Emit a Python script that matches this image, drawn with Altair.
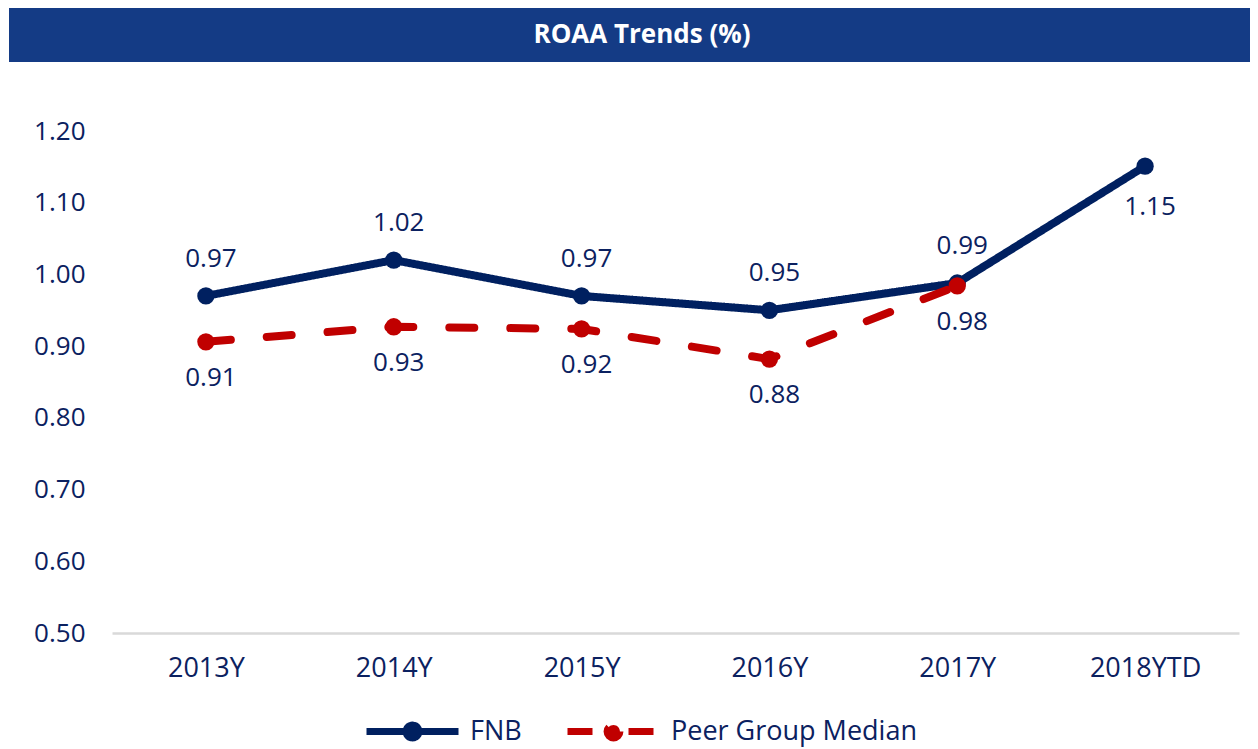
import altair as alt
import pandas as pd

# ---- data ----
years = ["2013Y", "2014Y", "2015Y", "2016Y", "2017Y", "2018YTD"]
fnb_values = [0.970, 1.020, 0.970, 0.950, 0.988, 1.151]
peer_years = ["2013Y", "2014Y", "2015Y", "2016Y", "2017Y"]
peer_values = [0.906, 0.927, 0.924, 0.882, 0.984]
series_names = ["FNB", "Peer Group Median"]
y_tick_values = [0.5, 0.6, 0.7, 0.8, 0.9, 1.0, 1.1, 1.2]
title_text = "ROAA Trends (%)"

NAVY = "#002060"
RED = "#C00000"
BANNER = "#143B85"
TEXT = "#0B2160"
FONT = "Open Sans"

rows = [{"year": y, "series": series_names[0], "value": v} for y, v in zip(years, fnb_values)]
rows += [{"year": y, "series": series_names[1], "value": v} for y, v in zip(peer_years, peer_values)]
df = pd.DataFrame(rows)

W, H = 1127, 502

color_scale = alt.Scale(domain=series_names, range=[NAVY, RED])
dash_scale = alt.Scale(domain=series_names, range=[[1, 0], [25, 36]])

sym_path = ("M-1,0L1,0M0.14,0A0.14,0.14,0,1,1,-0.14,0"
            "A0.14,0.14,0,1,1,0.14,0Z")
legend = alt.Legend(
    title=None, orient="none", legendX=251, legendY=551,
    direction="horizontal", symbolType=sym_path, symbolSize=8464,
    symbolStrokeWidth=7, labelFont=FONT, labelFontSize=27,
    labelColor=TEXT, labelOffset=8, columnPadding=31, padding=0,
    symbolOpacity=1, labelLimit=500,
)

x_enc = alt.X("year:N", sort=years,
              scale=alt.Scale(type="point", domain=years, padding=0.5),
              axis=alt.Axis(title=None, domain=True, domainColor="#D9D9D9",
                            domainWidth=2.5, ticks=False, grid=False,
                            labelFont=FONT, labelFontSize=27, labelColor=TEXT,
                            labelPadding=22, labelAngle=0))
y_enc = alt.Y("value:Q",
              scale=alt.Scale(domain=[0.5, 1.2], nice=False, zero=False),
              axis=alt.Axis(title=None, values=y_tick_values, format=".2f",
                            domain=False, ticks=False, grid=False,
                            labelFont=FONT, labelFontSize=26, labelColor=TEXT,
                            labelPadding=27))

base = alt.Chart(df)

lines = base.mark_line(strokeWidth=8, strokeCap="round", strokeJoin="round").encode(
    x=x_enc, y=y_enc,
    stroke=alt.Stroke("series:N", scale=color_scale, legend=legend),
    strokeDash=alt.StrokeDash("series:N", scale=dash_scale, legend=legend),
)

points = base.mark_point(filled=True, size=300, opacity=1).encode(
    x=x_enc, y=y_enc,
    fill=alt.Fill("series:N", scale=color_scale, legend=legend),
)

label_style = dict(font=FONT, fontSize=26, color=TEXT, baseline="middle", dx=5)

fnb_above = base.transform_filter(
    (alt.datum.series == series_names[0]) & (alt.datum.year != years[-1])
).mark_text(dy=-37, **label_style).encode(
    x=x_enc, y=y_enc, text=alt.Text("value:Q", format=".2f"))

fnb_below = base.transform_filter(
    (alt.datum.series == series_names[0]) & (alt.datum.year == years[-1])
).mark_text(dy=41, **label_style).encode(
    x=x_enc, y=y_enc, text=alt.Text("value:Q", format=".2f"))

peer_below = base.transform_filter(
    alt.datum.series == series_names[1]
).mark_text(dy=36, **label_style).encode(
    x=x_enc, y=y_enc, text=alt.Text("value:Q", format=".2f"))

title_df = pd.DataFrame({"t": [title_text]})
banner = alt.Chart(title_df).mark_rect(color=BANNER).encode(
    x=alt.value(-103), x2=alt.value(1138), y=alt.value(-123), y2=alt.value(-69))
banner_text = alt.Chart(title_df).mark_text(
    font=FONT, fontSize=26, fontWeight="bold", color="white",
    baseline="middle", align="center").encode(
    x=alt.value(530), y=alt.value(-96), text="t:N")

chart = alt.layer(banner, banner_text, lines, points, fnb_above, fnb_below, peer_below).properties(
    width=W, height=H,
    padding={"left": 104, "top": 123, "right": 11, "bottom": 116},
    autosize=alt.AutoSizeParams(type="none"),
    background="white",
).configure_view(stroke=None)

chart.save("out.html", embed_options={"renderer": "svg", "actions": False})
